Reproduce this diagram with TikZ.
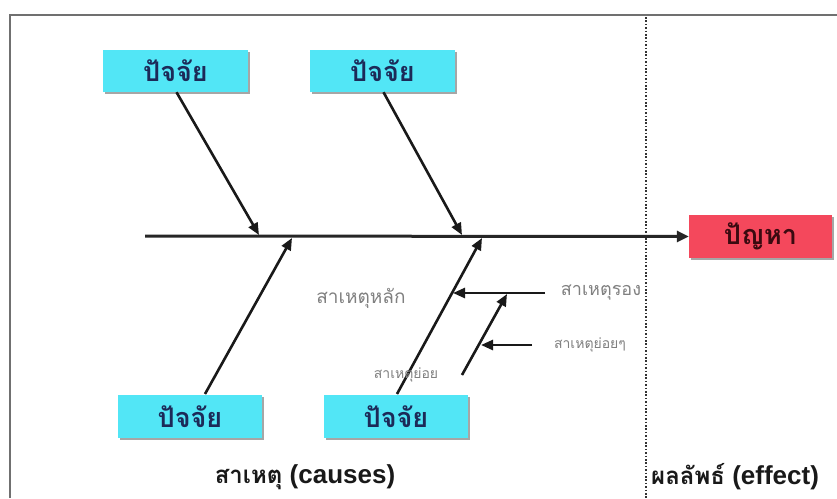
\documentclass[tikz,border=0pt]{standalone}
\usepackage{fontspec}
\setmainfont{Liberation Sans}
\newfontfamily\thai[Script=Thai]{Loma}
\usetikzlibrary{arrows.meta}
\definecolor{boxcyan}{HTML}{52E6F6}
\definecolor{boxred}{HTML}{F4485C}
\definecolor{navy}{HTML}{1C2A58}
\definecolor{maroon}{HTML}{3A0A10}
\definecolor{frameg}{HTML}{707070}
\definecolor{labg}{HTML}{808080}
\tikzset{
  factor/.style={fill=boxcyan, minimum width=145pt, minimum height=42pt, inner sep=0pt,
    font=\thai\bfseries\fontsize{27}{29}\selectfont, text=navy},
  problem/.style={fill=boxred, minimum width=143pt, minimum height=43pt, inner sep=0pt,
    font=\thai\bfseries\fontsize{27}{29}\selectfont, text=maroon},
  bone/.style={line width=2.6pt, -{Triangle[length=12pt,width=10pt]}, black!90},
  spine/.style={line width=3pt, -{Triangle[length=12pt,width=11pt]}, black!85},
  lab/.style={text=labg, inner sep=0pt},
  title/.style={inner sep=0pt, font=\bfseries\fontsize{26}{30}\selectfont, text=black!90},
  shadowbox/.style={fill=black!35}
}
\begin{document}
\begin{tikzpicture}[x=1pt,y=-1pt]
\useasboundingbox (0,0) rectangle (837,498);
\fill[white] (0,0) rectangle (837,498);
% frame
\draw[frameg, line width=2pt] (10,498) -- (10,15) -- (837,15);
% dotted divider
\draw[black!80, line width=2pt, dash pattern=on 1.6pt off 1.8pt] (646,17) -- (646,498);
% shadows
\fill[shadowbox] (105,52) rectangle (250,94);
\fill[shadowbox] (312,52) rectangle (457,94);
\fill[shadowbox] (120,397) rectangle (264,440);
\fill[shadowbox] (326,397) rectangle (470,440);
\fill[shadowbox] (691,217) rectangle (834,260);
% boxes
\node[factor] (f1) at (175.5,71) {ปัจจัย};
\node[factor] (f2) at (382.5,71) {ปัจจัย};
\node[factor, minimum width=144pt, minimum height=43pt] (f3) at (190,416.5) {ปัจจัย};
\node[factor, minimum width=144pt, minimum height=43pt] (f4) at (396,416.5) {ปัจจัย};
\node[problem] (p) at (760.5,236.5) {ปัญหา};
% joints
\coordinate (s0) at (145,236);
\coordinate (j1) at (259,235);
\coordinate (j2) at (462,235);
\coordinate (j3) at (292,238);
\coordinate (j4) at (482,238);
\coordinate (b3) at (205,394);
\coordinate (b4) at (397,394);
\coordinate (r0) at (545,293);
\coordinate (r1) at (453,293);
\coordinate (d0) at (462,375);
\coordinate (d1) at (507,294);
\coordinate (y0) at (532,345);
\coordinate (y1) at (481,345);
% spine
\draw[spine] (s0) -- (p.west);
% main bones
\draw[bone] ([xshift=1pt]f1.south) -- (j1);
\draw[bone] ([xshift=1pt]f2.south) -- (j2);
\draw[bone] (b3) -- (j3);
\draw[bone] (b4) -- (j4);
% sub bones
\draw[bone] (r0) -- (r1);
\draw[bone] (d0) -- (d1);
\draw[bone] (y0) -- (y1);
% labels
\node[lab, font=\thai\fontsize{19}{22}\selectfont] (l1) at (361,298) {สาเหตุหลัก};
\node[lab, font=\thai\fontsize{18}{21}\selectfont] (l2) at (601,293) {สาเหตุรอง};
\node[lab, font=\thai\fontsize{14}{16}\selectfont] (l3) at (590,345) {สาเหตุย่อยๆ};
\node[lab, font=\thai\fontsize{14}{16}\selectfont] (l4) at (406,375) {สาเหตุย่อย};
\node[title] (t1) at (305,477) {{\thai\fontsize{24}{28}\selectfont สาเหตุ} (causes)};
\node[title, anchor=west] (t2) at (651,477) {{\thai\fontsize{24}{28}\selectfont ผลลัพธ์} (effect)};
\end{tikzpicture}
\end{document}
